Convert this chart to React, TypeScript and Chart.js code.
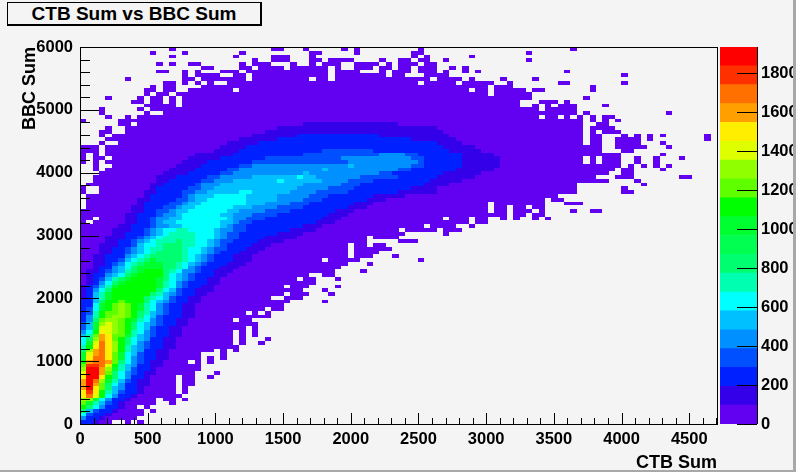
import React, { useEffect, useRef } from "react";
import { Chart, registerables } from "chart.js";

Chart.register(...registerables);

const titleText = "CTB Sum vs BBC Sum";
const xTitle = "CTB Sum";
const yTitle = "BBC Sum";
const xMax = 4705;
const yMax = 6000;
const zMax = 1935;
const binCountX = 100;
const binCountY = 100;
const xTickValues = [0, 500, 1000, 1500, 2000, 2500, 3000, 3500, 4000, 4500];
const yTickValues = [0, 1000, 2000, 3000, 4000, 5000, 6000];
const zTickValues = [0, 200, 400, 600, 800, 1000, 1200, 1400, 1600, 1800];
const palette = [
  "#6200f2", "#3400ea", "#0020ff", "#0050ff", "#0090ff", "#00c0ff", "#00ffff", "#00ffb0", "#00ff70", "#00ff50",
  "#00ff30", "#00ff00", "#60ff00", "#90ff00", "#ddff00", "#ffee00", "#ffa000", "#ff7000", "#ff3000", "#ff0000",
];
// shade letter -> colour-bar bin
const binOfShade = [0, 1, 2, 2, 3, 4, 5, 6, 7, 8, 10, 11, 12, 13, 14, 15, 16, 17, 18, 19];

// One line per y bin, bottom to top: "firstColumn:shade", "-" = empty.
const binRows = [
  "0:3 1:2 2:1 3:0 5:- 7:0 8:- 9:0 10:-",
  "0:5 1:3 2:2 3:1 4:0 9:-",
  "0:7 1:4 2:3 3:2 4:1 5:0 10:-",
  "0:9 1:6 2:4 3:3 4:2 5:1 6:0 10:- 11:0 12:-",
  "0:11 1:9 2:7 3:5 4:3 5:2 6:1 7:0 9:- 10:0 11:-",
  "0:12 1:10 2:8 3:6 4:4 5:2 6:1 7:0 12:- 14:0 15:-",
  "0:13 1:13 2:10 3:7 4:5 5:3 6:2 7:1 8:0 12:- 13:0 15:- 16:0 17:-",
  "0:15 1:17 2:14 3:11 4:7 5:5 6:3 7:2 8:1 9:0 16:-",
  "0:15 1:18 2:15 3:11 4:8 5:6 6:4 7:3 8:2 9:1 10:0 15:- 16:0 17:-",
  "0:16 1:19 2:15 3:12 4:9 5:6 6:5 7:3 8:2 9:1 10:0 15:- 16:0 17:-",
  "0:16 1:19 2:16 3:12 4:9 5:7 6:5 7:3 8:2 9:1 11:0 15:- 16:0 18:-",
  "0:16 1:19 2:17 3:13 4:10 5:8 6:6 7:4 8:2 9:1 11:0 15:- 16:0 18:-",
  "0:15 1:19 3:15 4:11 5:9 6:7 7:5 8:3 9:2 10:1 11:0 15:- 16:0 18:- 20:0 21:-",
  "0:14 1:19 3:16 4:12 5:9 6:7 7:5 8:4 9:2 10:1 12:0 18:- 21:0 22:-",
  "0:13 1:19 3:16 4:13 5:10 6:8 7:6 8:4 9:3 10:2 11:1 12:0 19:-",
  "0:12 1:18 3:17 4:14 5:11 6:8 7:6 8:5 9:3 10:2 11:1 13:0 19:-",
  "0:11 1:16 2:17 4:16 5:12 6:9 7:7 8:5 9:4 10:2 11:1 13:0 17:- 18:0 19:- 20:0 21:-",
  "0:10 1:15 2:17 4:15 5:12 6:10 7:7 8:5 9:4 10:3 11:2 12:1 14:0 19:- 20:0 21:- 22:0 23:-",
  "0:10 1:14 2:16 3:17 4:15 5:12 6:10 7:7 8:6 9:4 10:3 11:2 12:1 14:0 19:- 22:0 23:-",
  "0:9 1:13 2:16 3:17 4:15 5:13 6:11 7:8 8:6 9:5 10:3 11:2 12:1 14:0 21:- 22:0 23:- 24:0 25:-",
  "0:8 1:11 2:15 3:17 4:15 5:13 6:11 7:8 8:6 9:5 10:4 11:3 12:2 13:1 15:0 25:-",
  "0:7 1:10 2:14 3:17 4:15 5:13 6:11 7:9 8:7 9:5 10:4 11:3 12:2 13:1 15:0 24:- 25:0 26:- 28:0 29:-",
  "0:7 1:9 2:13 3:16 4:15 5:12 6:11 7:9 8:7 9:6 10:5 11:3 12:2 13:1 15:0 24:- 25:0 26:- 29:0 30:-",
  "0:6 1:8 2:12 3:16 4:15 5:12 7:10 8:8 9:6 10:5 11:4 12:3 13:2 14:1 16:0 24:- 25:0 26:- 27:0 28:-",
  "0:5 1:7 2:11 3:15 4:14 5:13 6:12 7:11 8:8 9:7 10:5 11:4 12:3 13:2 14:1 16:0 24:- 25:0 26:- 27:0 28:-",
  "0:4 1:6 2:10 3:14 5:13 6:12 7:11 8:9 9:7 10:6 11:4 12:3 13:2 14:1 16:0 26:- 27:0 28:-",
  "0:4 1:6 2:10 3:13 4:14 5:13 6:12 7:11 8:9 9:7 10:6 11:5 12:4 13:3 14:2 15:1 17:0 28:-",
  "0:3 1:5 2:9 3:12 4:13 6:12 7:11 8:10 9:8 10:7 11:5 12:4 13:3 14:2 15:1 17:0 24:- 25:0 27:-",
  "0:3 1:5 2:8 3:11 4:12 5:13 7:12 8:11 9:9 10:7 11:6 12:4 13:3 15:2 16:1 18:0 30:-",
  "0:3 1:4 2:8 3:11 4:12 6:13 7:12 8:11 9:9 10:8 11:6 12:5 13:4 14:3 15:2 16:1 18:0 26:- 27:0 28:- 29:0 30:-",
  "0:2 1:4 2:7 3:10 4:11 5:12 6:13 7:12 8:11 9:10 10:8 11:7 12:5 13:4 14:3 15:2 16:1 18:0 29:- 30:0 32:-",
  "0:2 1:3 2:7 3:10 4:11 5:12 6:13 7:12 8:11 9:10 10:8 11:7 12:5 13:4 14:3 15:2 16:1 18:0 32:-",
  "0:2 1:3 2:6 3:9 4:11 6:12 7:11 10:9 11:7 12:6 13:5 14:4 15:3 16:2 17:1 19:0 33:- 38:0 39:-",
  "0:1 1:3 2:6 3:8 4:10 5:11 10:9 11:8 12:7 13:6 14:4 15:3 16:2 17:1 19:0 30:- 32:0 35:-",
  "0:1 1:2 2:6 3:8 4:10 5:11 11:9 12:8 13:6 14:5 15:4 16:3 17:2 18:1 20:0 32:- 33:0 36:- 39:0 40:-",
  "0:1 1:2 2:5 3:7 4:9 5:11 12:9 13:7 14:6 15:4 16:3 17:2 18:1 21:0 35:- 38:0 39:-",
  "0:1 1:2 2:4 3:6 4:8 5:10 6:11 12:10 13:8 14:7 15:5 16:4 17:3 18:2 19:1 21:0 32:- 33:0 36:- 40:0 41:-",
  "0:0 1:1 2:3 3:5 4:7 5:9 6:10 7:11 12:10 13:8 14:7 15:5 16:4 17:3 18:2 20:1 22:0 37:-",
  "0:0 1:1 2:2 3:4 4:6 5:8 6:9 7:10 8:11 12:10 13:9 14:7 15:6 16:5 17:4 18:3 19:2 20:1 22:0 34:- 35:0 37:- 40:0 41:-",
  "0:0 1:1 2:2 3:3 4:5 5:6 6:7 7:9 8:10 9:11 13:9 14:7 15:6 16:5 17:4 18:3 19:2 21:1 23:0 36:- 38:0 40:-",
  "0:0 1:1 3:2 4:4 5:5 6:6 7:8 8:9 9:10 10:11 13:9 14:8 15:7 16:5 18:4 19:3 20:2 21:1 24:0 40:- 44:0 45:-",
  "0:0 2:1 3:2 4:3 5:5 6:6 7:7 8:9 9:10 13:9 15:8 16:7 17:5 18:4 19:3 20:2 22:1 25:0 41:-",
  "0:0 2:1 4:2 5:4 6:5 7:7 8:8 9:9 10:10 13:9 15:8 16:7 17:6 18:5 19:4 20:3 21:2 23:1 26:0 42:- 45:0 46:-",
  "0:0 2:1 4:2 5:3 6:4 7:6 8:7 9:8 10:9 11:10 12:9 16:8 17:7 18:6 19:5 20:4 21:3 22:2 24:1 27:0 38:- 39:0 44:- 53:0 54:-",
  "0:0 2:1 4:2 6:3 7:5 8:6 9:7 10:8 11:9 16:8 17:7 18:6 19:5 20:4 21:3 22:2 24:1 27:0 42:- 43:0 46:- 49:0 50:-",
  "0:0 3:1 5:2 6:3 7:4 8:5 9:6 10:7 11:8 12:9 16:8 17:7 19:6 20:5 21:4 22:3 23:2 25:1 28:0 42:- 43:0 47:-",
  "0:0 3:1 5:2 6:3 7:4 8:5 9:6 10:7 11:8 13:9 16:8 17:7 19:6 20:5 21:4 23:3 24:2 26:1 29:0 42:- 43:0 49:-",
  "0:0 3:1 6:2 7:3 8:4 9:6 10:7 12:8 13:9 16:8 18:7 20:6 21:5 22:4 23:3 25:2 27:1 30:0 42:- 43:0 45:- 46:0 48:-",
  "0:0 4:1 6:2 7:3 8:4 9:5 10:6 11:7 12:8 15:9 16:8 18:7 20:6 21:5 22:4 24:3 26:2 28:1 32:0 45:- 50:0 53:-",
  "0:0 4:1 7:2 8:3 9:4 10:5 11:6 12:7 13:8 18:7 21:6 22:5 23:4 25:3 27:2 29:1 34:0 45:- 46:0 50:-",
  "0:0 5:1 7:2 9:3 10:4 11:5 12:6 13:7 14:8 18:7 21:6 22:5 23:4 25:3 28:2 31:1 35:0 51:- 57:0 58:-",
  "0:0 5:1 8:2 9:3 10:4 11:5 12:6 13:7 15:8 17:7 21:6 22:5 24:4 26:3 28:2 33:1 37:0 50:- 51:0 56:- 57:0 60:-",
  "0:0 6:1 8:2 10:3 11:4 12:5 14:6 16:7 22:6 23:5 24:4 26:3 28:2 35:1 38:0 54:- 55:0 59:- 61:0 62:-",
  "0:0 1:- 2:0 7:1 9:2 10:3 11:4 12:5 13:6 15:7 22:6 24:5 25:4 27:3 30:2 37:1 40:0 61:- 62:0 64:-",
  "0:0 2:- 3:0 7:1 9:2 10:3 11:4 12:5 14:6 16:7 23:6 24:5 26:4 29:3 33:2 38:1 41:0 57:- 58:0 61:- 62:0 64:- 66:0 67:- 68:0 69:- 71:0 72:- 73:0 74:-",
  "0:0 7:1 9:2 11:3 12:4 13:5 15:6 16:7 22:6 24:5 27:4 31:3 35:2 39:1 42:0 67:- 68:0 70:- 71:0 73:-",
  "0:0 8:1 10:2 11:3 12:4 14:5 15:6 17:7 23:6 25:5 29:4 33:3 37:2 40:1 43:0 64:- 65:0 67:- 68:0 71:- 72:0 73:- 77:0 78:- 80:0 82:-",
  "1:0 8:1 10:2 11:3 13:4 15:5 16:6 18:7 24:6 27:5 31:4 35:3 38:2 42:1 45:0 64:- 65:0 67:- 68:0 70:- 71:0 73:-",
  "1:0 9:1 10:2 12:3 14:4 16:5 17:6 19:7 26:6 29:5 33:4 36:3 40:2 43:1 46:0 64:- 65:0 73:- 76:0 79:-",
  "1:0 9:1 11:2 13:3 15:4 17:5 18:6 20:7 26:6 31:5 35:4 38:3 42:2 45:1 48:0 73:- 74:0 76:-",
  "1:0 10:1 11:2 13:3 16:4 17:5 18:6 21:7 26:6 31:5 36:4 39:3 42:2 46:1 51:0 75:-",
  "0:0 1:- 3:0 10:1 12:2 14:3 16:4 18:5 20:6 25:7 27:6 33:5 37:4 42:3 45:2 50:1 56:0 78:- 85:0 87:-",
  "0:0 1:- 3:0 11:1 12:2 15:3 17:4 19:5 21:6 34:5 39:4 43:3 47:2 52:1 56:0 78:- 85:0 86:-",
  "1:0 11:1 13:2 16:3 18:4 19:5 22:6 35:5 41:4 44:3 50:2 54:1 58:0 78:- 88:0 89:-",
  "2:0 12:1 14:2 17:3 19:4 21:5 24:6 31:7 32:6 38:5 42:4 46:3 51:2 55:1 60:0 83:- 87:0 88:-",
  "2:0 12:1 15:2 18:3 20:4 22:5 27:6 34:7 35:6 37:5 44:4 50:3 52:2 56:1 62:0 81:- 84:0 87:- 94:0 96:-",
  "3:0 13:1 17:2 19:3 22:4 24:5 35:6 36:5 47:4 49:3 53:2 57:1 63:0 83:- 85:0 87:-",
  "2:0 3:- 4:0 14:1 18:2 20:3 23:4 25:5 38:6 39:5 50:4 52:3 56:2 59:1 65:0 84:- 85:0 87:- 91:0 92:-",
  "2:0 3:- 5:0 15:1 19:2 21:3 25:4 27:5 42:6 43:5 52:4 54:3 57:2 60:1 66:0 85:- 86:0 87:- 88:0 89:- 90:0 91:- 92:0 93:-",
  "0:0 1:- 2:0 3:- 4:0 16:1 20:2 22:3 27:4 42:5 53:4 54:3 56:2 60:1 66:0 79:- 80:0 81:- 82:0 85:- 87:0 88:- 90:0 91:-",
  "0:0 1:- 2:0 4:- 5:0 17:1 22:2 24:3 29:4 41:5 52:4 54:3 57:2 60:1 66:0 79:- 80:0 81:- 82:0 85:- 87:0 88:- 90:0 91:- 94:0 95:-",
  "0:0 1:- 2:0 3:- 4:0 18:1 24:2 26:3 35:4 47:5 51:4 53:3 57:2 60:1 65:0 85:- 91:0 92:-",
  "0:0 3:- 4:0 21:1 25:2 27:3 38:4 46:3 55:2 58:1 63:0 82:- 85:0 87:-",
  "0:0 3:- 4:0 22:1 26:2 33:3 50:2 57:1 62:0 82:- 84:0 89:- 92:0 93:-",
  "3:0 4:- 6:0 23:1 28:2 39:3 46:2 56:1 60:0 79:- 80:0 82:- 84:0 88:- 91:0 92:-",
  "4:0 25:1 31:2 52:1 59:0 79:- 80:0 82:- 84:0 88:- 89:0 90:- 98:0 99:-",
  "3:0 4:- 5:0 27:1 34:2 47:1 58:0 79:- 80:0 82:- 85:0 86:- 87:0 88:- 89:0 90:- 91:0 92:- 98:0 99:-",
  "3:0 5:- 7:0 29:1 57:0 79:- 80:0 81:- 82:0 85:-",
  "4:0 5:- 7:0 31:1 56:0 79:- 80:0 84:-",
  "6:0 8:- 9:0 35:1 50:0 79:- 81:0 83:-",
  "0:0 1:- 6:0 79:- 80:0 81:- 82:0 83:- 84:0 85:-",
  "4:0 5:- 7:0 8:- 9:0 72:- 73:0 75:- 76:0 77:- 78:0 79:- 80:0 81:- 82:0 84:-",
  "3:0 4:- 10:0 11:- 13:0 78:- 79:0 80:- 92:0 93:-",
  "3:0 4:- 9:0 10:- 11:0 72:- 73:0 78:-",
  "10:0 15:- 16:0 69:- 71:0 72:- 73:0 74:- 75:0 78:- 82:0 83:-",
  "8:0 10:- 11:0 13:- 14:0 15:- 16:0 69:- 72:0 75:- 76:0 77:-",
  "4:0 5:- 9:0 10:- 11:0 13:- 14:0 15:- 16:0 71:- 79:0 80:-",
  "10:0 11:- 12:0 14:- 15:0 64:- 65:0 71:-",
  "10:0 12:- 13:0 15:- 17:0 24:- 25:0 61:- 62:0 64:- 65:0 70:- 71:0 73:- 80:0 81:-",
  "11:0 12:- 13:0 15:- 19:0 64:- 65:0 68:- 80:0 81:-",
  "13:0 15:- 16:0 17:- 18:0 19:- 20:0 21:- 23:0 53:- 54:0 59:- 60:0 65:- 67:0 68:- 75:0 77:- 85:0 86:-",
  "7:0 8:- 16:0 18:- 19:0 26:- 27:0 36:- 37:0 39:- 40:0 55:- 56:0 60:- 61:0 62:- 66:0 67:- 71:0 72:-",
  "16:0 17:- 18:0 22:- 24:0 26:- 27:0 39:- 40:0 48:- 49:0 51:- 54:0 58:- 85:0 86:-",
  "12:0 14:- 16:0 17:- 18:0 19:- 22:0 25:- 26:0 39:- 40:0 44:- 47:0 48:- 49:0 52:- 53:0 56:- 57:0 58:- 60:0 61:- 62:0 63:- 76:0 77:-",
  "19:0 21:- 25:0 27:- 28:0 32:- 33:0 39:- 40:0 41:- 43:0 46:- 47:0 49:- 50:0 52:- 53:0 56:- 58:0 59:- 60:0 61:-",
  "12:0 13:- 14:0 15:- 17:0 19:- 25:0 26:- 27:0 30:- 33:0 34:- 36:0 37:- 38:0 41:- 43:0 47:- 48:0 49:- 50:0 53:- 54:0 56:-",
  "27:0 28:- 30:0 33:- 36:0 38:- 39:0 43:- 47:0 48:- 50:0 52:- 53:0 55:- 57:0 58:- 70:0 71:-",
  "14:0 15:- 24:0 25:- 30:0 33:- 36:0 37:- 52:0 53:- 54:0 55:- 61:0 62:-",
  "11:0 12:- 16:0 17:- 25:0 26:- 36:0 38:- 43:0 44:- 52:0 54:- 70:0 71:-",
  "14:0 15:- 30:0 32:- 35:0 36:- 41:0 42:- 43:0 44:- 53:0 54:- 77:0 78:-",
];

type Cell = { x: number; y: number; bin: number };

function readCells(): Cell[] {
  const cells: Cell[] = [];
  const w = xMax / binCountX;
  const h = yMax / binCountY;
  binRows.forEach((row, r) => {
    const tokens = row.split(" ").map((t) => t.split(":"));
    tokens.forEach(([start, shade], i) => {
      if (shade === "-" || i + 1 >= tokens.length) return;
      const end = Number(tokens[i + 1][0]);
      for (let c = Number(start); c < end; c++) {
        cells.push({ x: (c + 0.5) * w, y: (r + 0.5) * h, bin: binOfShade[Number(shade)] });
      }
    });
  });
  return cells;
}

const heatPlugin = {
  id: "heat",
  beforeDatasetsDraw(chart: any) {
    const { ctx, scales } = chart;
    const w = xMax / binCountX / 2;
    const h = yMax / binCountY / 2;
    const data = chart.data.datasets[0].data as Cell[];
    ctx.save();
    for (const d of data) {
      const x0 = Math.round(scales.x.getPixelForValue(d.x - w));
      const x1 = Math.round(scales.x.getPixelForValue(d.x + w));
      const y0 = Math.round(scales.y.getPixelForValue(d.y + h));
      const y1 = Math.round(scales.y.getPixelForValue(d.y - h));
      ctx.fillStyle = palette[d.bin];
      ctx.fillRect(x0, y0, x1 - x0, y1 - y0);
    }
    ctx.restore();
  },
};

const framePlugin = {
  id: "frame",
  afterDraw(chart: any) {
    const { ctx, chartArea: a, scales } = chart;
    ctx.save();
    ctx.strokeStyle = "#000";
    ctx.lineWidth = 1;
    ctx.beginPath();
    for (let v = 0; v <= xMax; v += 100) {
      const p = Math.round(scales.x.getPixelForValue(v)) + 0.5;
      ctx.moveTo(p, a.bottom);
      ctx.lineTo(p, a.bottom - (v % 500 === 0 ? 11 : 6));
    }
    for (let v = 0; v <= yMax; v += 200) {
      const p = Math.round(scales.y.getPixelForValue(v)) + 0.5;
      ctx.moveTo(a.left, p);
      ctx.lineTo(a.left + (v % 1000 === 0 ? 19 : 10), p);
    }
    ctx.stroke();
    ctx.strokeRect(a.left + 0.5, a.top + 0.5, a.right - a.left, a.bottom - a.top);
    ctx.restore();
  },
};

const barFramePlugin = {
  id: "barFrame",
  afterDraw(chart: any) {
    const { ctx, chartArea: a, scales } = chart;
    ctx.save();
    ctx.strokeStyle = "#000";
    ctx.lineWidth = 1;
    ctx.beginPath();
    for (const v of zTickValues) {
      const p = Math.round(scales.y.getPixelForValue(v)) + 0.5;
      ctx.moveTo(a.right, p);
      ctx.lineTo(a.right - 20, p);
    }
    ctx.moveTo(a.right + 0.5, a.top);
    ctx.lineTo(a.right + 0.5, a.bottom);
    ctx.stroke();
    ctx.restore();
  },
};

const tickFont = { family: "'Liberation Sans'", weight: "bold" as const, size: 16.5 };
const titleFont = { family: "'Liberation Sans'", weight: "bold" as const, size: 18 };
const plain = (v: number | string) => String(v);
const fixedTicks = (values: number[]) => (s: any) => {
  s.ticks = values.map((value) => ({ value }));
};

export default function App() {
  const mainRef = useRef<HTMLCanvasElement>(null);
  const barRef = useRef<HTMLCanvasElement>(null);

  useEffect(() => {
    const main = new Chart(mainRef.current!, {
      type: "scatter",
      data: { datasets: [{ data: readCells(), pointRadius: 0, pointHoverRadius: 0 }] as any },
      options: {
        animation: false,
        responsive: false,
        events: [],
        layout: { padding: { top: 47, right: 1, left: 0, bottom: 0 } },
        plugins: { legend: { display: false }, tooltip: { enabled: false } },
        scales: {
          x: {
            type: "linear",
            min: 0,
            max: xMax,
            afterBuildTicks: fixedTicks(xTickValues),
            afterFit: (s: any) => { s.height = 48; },
            grid: { display: false, drawTicks: false },
            border: { display: false },
            ticks: { autoSkip: false, maxRotation: 0, color: "#000", font: tickFont, padding: 6, callback: plain },
            title: { display: true, text: xTitle, align: "end", color: "#000", font: titleFont, padding: { top: 6, bottom: -2 } },
          },
          y: {
            type: "linear",
            min: 0,
            max: yMax,
            afterBuildTicks: fixedTicks(yTickValues),
            afterFit: (s: any) => { s.width = 80; },
            grid: { display: false, drawTicks: false },
            border: { display: false },
            ticks: { autoSkip: false, color: "#000", font: tickFont, padding: 7, callback: plain },
            title: { display: true, text: yTitle, align: "end", color: "#000", font: titleFont, padding: { top: 19, bottom: 0 } },
          },
        },
      } as any,
      plugins: [heatPlugin, framePlugin],
    });

    const binValue = zMax / palette.length;
    const bar = new Chart(barRef.current!, {
      type: "bar",
      data: {
        labels: [""],
        datasets: palette.map((c) => ({
          data: [binValue],
          backgroundColor: c,
          borderWidth: 0,
          barPercentage: 1,
          categoryPercentage: 1,
        })),
      },
      options: {
        animation: false,
        responsive: false,
        events: [],
        layout: { padding: { top: 47, bottom: 48, left: 2, right: 0 } },
        plugins: { legend: { display: false }, tooltip: { enabled: false } },
        scales: {
          x: { stacked: true, display: false },
          y: {
            stacked: true,
            position: "right",
            min: 0,
            max: zMax,
            afterBuildTicks: fixedTicks(zTickValues),
            afterFit: (s: any) => { s.width = 39; },
            grid: { display: false, drawTicks: false },
            border: { display: false },
            ticks: { autoSkip: false, color: "#000", font: tickFont, padding: 4, callback: plain },
          },
        },
      } as any,
      plugins: [barFramePlugin],
    });

    return () => {
      main.destroy();
      bar.destroy();
    };
  }, []);

  return (
    <div style={{ position: "fixed", left: 0, top: 0, width: 796, height: 472, background: "#f4f4f4", overflow: "hidden" }}>
      <canvas ref={mainRef} width={718} height={472} style={{ position: "absolute", left: 0, top: 0, width: 718, height: 472 }} />
      <canvas ref={barRef} width={78} height={472} style={{ position: "absolute", left: 718, top: 0, width: 78, height: 472 }} />
      <div
        style={{
          position: "absolute", left: 7, top: 2, width: 252, height: 21, background: "#f4f4f4",
          border: "1px solid #000", borderRightWidth: 2, borderBottomWidth: 2, boxSizing: "content-box",
          font: "bold 19px 'Liberation Sans'", color: "#000", textAlign: "center", lineHeight: "22px",
        }}
      >
        {titleText}
      </div>
      <div style={{ position: "absolute", right: 0, top: 0, width: 3, height: 472, background: "#a8a8a8" }} />
      <div style={{ position: "absolute", left: 0, bottom: 0, width: 796, height: 2, background: "#a8a8a8" }} />
    </div>
  );
}
